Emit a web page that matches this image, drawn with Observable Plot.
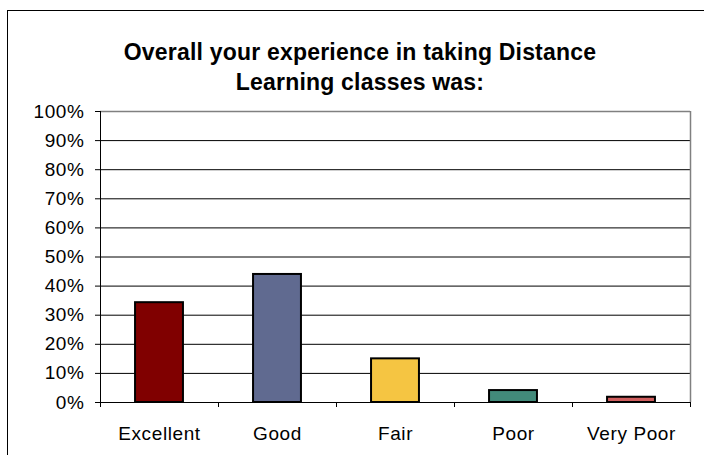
<!DOCTYPE html>
<html>
<head>
<meta charset="utf-8">
<script src="https://cdn.jsdelivr.net/npm/d3@7"></script>
<script src="https://cdn.jsdelivr.net/npm/@observablehq/plot@0.6"></script>
<style>
  html, body { margin: 0; padding: 0; background: #fff; }
  #wrap { position: relative; width: 704px; height: 455px; overflow: hidden; background: #fff; }
  #frame { position: absolute; left: 7px; top: 10px; width: 760px; height: 520px;
           border-top: 1.5px solid #000; border-left: 1.5px solid #000; box-sizing: border-box; }
  #title { position: absolute; left: 0; top: 37px; width: 720px; text-align: center;
           font-family: "Liberation Sans", Arial, sans-serif; font-weight: bold; font-size: 23px;
           line-height: 30px; letter-spacing: 0.2px; color: #000; }
  #chart { position: absolute; left: 0; top: 0; }
</style>
</head>
<body>
<div id="wrap">
  <div id="chart"></div>
  <div id="frame"></div>
  <div id="title">Overall your experience in taking Distance<br>Learning classes was:</div>
</div>
<script>
const categories = ["Excellent", "Good", "Fair", "Poor", "Very Poor"];
const values = [0.343, 0.44, 0.15, 0.041, 0.018];
const colors = ["#800000", "#606A90", "#F5C542", "#428A7A", "#CF5E5E"];
const yTicks = [0, 0.1, 0.2, 0.3, 0.4, 0.5, 0.6, 0.7, 0.8, 0.9, 1];
const gridTicks = [0.1, 0.2, 0.3, 0.4, 0.5, 0.6, 0.7, 0.8, 0.9];

const data = categories.map((c, i) => ({i, category: c, value: values[i], color: colors[i]}));
const boundaries = d3.range(categories.length + 1);
const centers = categories.map((c, i) => i + 0.5);

const chart = Plot.plot({
  width: 704,
  height: 455,
  marginTop: 111,
  marginBottom: 53,
  marginLeft: 100,
  marginRight: 14,
  style: {
    background: "transparent",
    fontFamily: "'Liberation Sans', Arial, sans-serif",
    fontSize: "19px",
    letterSpacing: "0.6px",
    color: "#000",
    overflow: "visible"
  },
  x: {type: "linear", domain: [0, categories.length], axis: null},
  y: {domain: [0, 1], axis: null},
  marks: [
    Plot.ruleY(gridTicks, {stroke: "#000", strokeWidth: 1}),
    Plot.ruleY([1], {stroke: "#808080", strokeWidth: 1.5}),
    Plot.ruleX([categories.length], {y1: 0, y2: 1, stroke: "#808080", strokeWidth: 1.5}),
    Plot.rectY(data, {
      x1: d => d.i + 0.297,
      x2: d => d.i + 0.703,
      y1: 0,
      y2: "value",
      fill: "color",
      stroke: "#000",
      strokeWidth: 2
    }),
    Plot.ruleX([0], {y1: 0, y2: 1, stroke: "#000", strokeWidth: 1}),
    Plot.ruleY([0], {stroke: "#000", strokeWidth: 1}),
    Plot.axisY({
      ticks: yTicks,
      tickSize: 5,
      tickPadding: 11,
      tickFormat: d3.format(".0%"),
      label: null,
      stroke: "#000"
    }),
    Plot.axisX({
      ticks: boundaries,
      tickSize: 5,
      tickFormat: () => "",
      label: null,
      stroke: "#000"
    }),
    Plot.axisX({
      ticks: centers,
      tickSize: 0,
      tickPadding: 24,
      tickFormat: d => categories[Math.floor(d)],
      label: null
    })
  ]
});
document.getElementById("chart").appendChild(chart);
</script>
</body>
</html>
